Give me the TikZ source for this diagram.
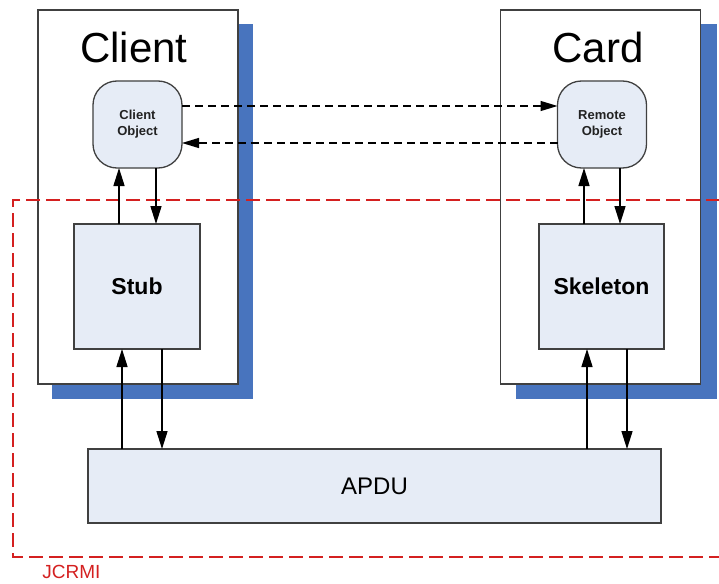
\documentclass[tikz,border=0pt]{standalone}
\usepackage{fontspec}
\setmainfont{Liberation Sans}
\usetikzlibrary{arrows.meta}
\definecolor{shadowblue}{RGB}{72,116,190}
\definecolor{boxfill}{RGB}{230,236,246}
\definecolor{jred}{RGB}{212,32,32}
\definecolor{edge}{RGB}{64,64,64}
\definecolor{smalltext}{RGB}{34,34,34}
\tikzset{
  host/.style={draw=edge, line width=1.3pt, fill=white, inner sep=0pt, outer sep=0pt},
  shade/.style={fill=shadowblue, draw=none},
  objbox/.style={draw=edge, line width=1.3pt, fill=boxfill, rounded corners=24pt,
    minimum width=89pt, minimum height=87pt, inner sep=0pt, outer sep=0pt,
    align=center, text=smalltext, font=\fontsize{13}{16}\selectfont\bfseries},
  layerbox/.style={draw=edge, line width=1.3pt, fill=boxfill,
    minimum width=125pt, minimum height=125pt, inner sep=0pt, outer sep=0pt,
    font=\fontsize{23}{27}\selectfont\bfseries},
  title/.style={font=\fontsize{42}{48}\selectfont, inner sep=0pt},
  arr/.style={line width=1.5pt, -{Triangle[length=18pt,width=11pt]}},
  remote/.style={line width=1.2pt, dash pattern=on 8pt off 5pt, -{Triangle[length=17pt,width=10pt]}},
  zone/.style={draw=jred, line width=2pt, dash pattern=on 14pt off 6pt}
}
\begin{document}
\begin{tikzpicture}[x=1pt, y=-1pt]
  \clip (0,0) rectangle (719,583);

  % hosts with their drop shadows
  \fill[shade] (52,24) rectangle (253,399);
  \fill[shade] (516,24) rectangle (717,399);
  \node[host, minimum width=200pt, minimum height=374pt] (client) at (138,197) {};
  \node[host, minimum width=200pt, minimum height=374pt] (card) at (600.5,197) {};
  \node[title, anchor=base] (clienttitle) at (134,63) {Client};
  \node[title, anchor=base] (cardtitle) at (598,63) {Card};

  % JCRMI boundary, open to the right
  \draw[zone] (760,200) -- (13,200) -- (13,557) -- (760,557);
  \node[text=jred, font=\fontsize{19}{22}\selectfont, inner sep=0pt] (jcrmi) at (71.5,572) {JCRMI};

  % objects and layers
  \node[objbox] (cobj) at (137.5,124.5) {Client\\Object};
  \node[objbox] (robj) at (602,124.5) {Remote\\Object};
  \node[layerbox, minimum width=126pt] (stub) at (137,286.5) {Stub};
  \node[layerbox] (skel) at (601.5,286.5) {Skeleton};
  \node[draw=edge, line width=1.3pt, fill=boxfill, minimum width=573pt, minimum height=74pt,
        inner sep=0pt, outer sep=0pt, font=\fontsize{24}{28}\selectfont] (apdu) at (374.5,486) {APDU};

  % remote invocation between objects
  \draw[remote] ([yshift=18.5pt]cobj.east) -- ([yshift=18.5pt]robj.west);
  \draw[remote] ([yshift=-18.5pt]robj.west) -- ([yshift=-18.5pt]cobj.east);

  % client side
  \draw[arr] ([xshift=-18pt]stub.north) -- ([xshift=-18pt]stub.north |- cobj.south);
  \draw[arr] ([xshift=19pt]stub.north |- cobj.south) -- ([xshift=19pt]stub.north);
  \draw[arr] ([xshift=-15pt]stub.south |- apdu.north) -- ([xshift=-15pt]stub.south);
  \draw[arr] ([xshift=25pt]stub.south) -- ([xshift=25pt]stub.south |- apdu.north);

  % card side
  \draw[arr] ([xshift=-17.5pt]skel.north) -- ([xshift=-17.5pt]skel.north |- robj.south);
  \draw[arr] ([xshift=18.5pt]skel.north |- robj.south) -- ([xshift=18.5pt]skel.north);
  \draw[arr] ([xshift=-14.5pt]skel.south |- apdu.north) -- ([xshift=-14.5pt]skel.south);
  \draw[arr] ([xshift=25.5pt]skel.south) -- ([xshift=25.5pt]skel.south |- apdu.north);
\end{tikzpicture}
\end{document}
